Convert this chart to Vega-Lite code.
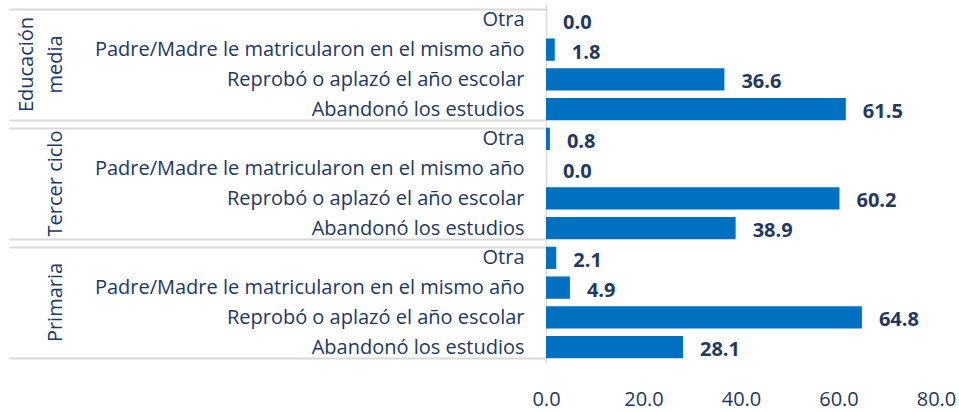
{
  "$schema": "https://vega.github.io/schema/vega-lite/v6.json",
  "padding": {"left": 8, "top": -5, "right": 2, "bottom": 5},
  "data": {
    "values": [
      {"nivel": "Educación media", "motivo": "Otra", "valor": 0.0},
      {"nivel": "Educación media", "motivo": "Padre/Madre le matricularon en el mismo año", "valor": 1.8},
      {"nivel": "Educación media", "motivo": "Reprobó o aplazó el año escolar", "valor": 36.6},
      {"nivel": "Educación media", "motivo": "Abandonó los estudios", "valor": 61.5},
      {"nivel": "Tercer ciclo", "motivo": "Otra", "valor": 0.8},
      {"nivel": "Tercer ciclo", "motivo": "Padre/Madre le matricularon en el mismo año", "valor": 0.0},
      {"nivel": "Tercer ciclo", "motivo": "Reprobó o aplazó el año escolar", "valor": 60.2},
      {"nivel": "Tercer ciclo", "motivo": "Abandonó los estudios", "valor": 38.9},
      {"nivel": "Primaria", "motivo": "Otra", "valor": 2.1},
      {"nivel": "Primaria", "motivo": "Padre/Madre le matricularon en el mismo año", "valor": 4.9},
      {"nivel": "Primaria", "motivo": "Reprobó o aplazó el año escolar", "valor": 64.8},
      {"nivel": "Primaria", "motivo": "Abandonó los estudios", "valor": 28.1}
    ]
  },
  "facet": {
    "row": {
      "field": "nivel",
      "type": "nominal",
      "sort": ["Educación media", "Tercer ciclo", "Primaria"],
      "header": {
        "title": null,
        "labelOrient": "left",
        "labelAngle": -90,
        "labelFont": "Open Sans",
        "labelFontSize": 20,
        "labelColor": "#203864",
        "labelLineHeight": 29,
        "labelPadding": -68,
        "labelExpr": "datum.value == 'Educación media' ? ['Educación', 'media'] : datum.value"
      }
    }
  },
  "spacing": 0,
  "spec": {
    "width": 390,
    "height": 119,
    "encoding": {
      "y": {
        "field": "motivo",
        "type": "nominal",
        "sort": ["Otra", "Padre/Madre le matricularon en el mismo año", "Reprobó o aplazó el año escolar", "Abandonó los estudios"],
        "scale": {"paddingInner": 0.25, "paddingOuter": 0.125},
        "axis": {
          "title": null,
          "labelFont": "Open Sans",
          "labelFontSize": 20,
          "labelColor": "#203864",
          "labelLimit": 0,
          "tickBand": "extent",
          "tickSize": 537,
          "tickWidth": 2,
          "tickColor": "#d9d9d9",
          "tickOpacity": {"condition": {"test": "datum.value == 'Otra' || datum.value == 'Reprobó o aplazó el año escolar' || datum.value == 'Padre/Madre le matricularon en el mismo año'", "value": 0}, "value": 1},
          "labelPadding": -515,
          "domainColor": "#d9d9d9",
          "domainWidth": 1.5
        }
      },
      "x": {
        "field": "valor",
        "type": "quantitative",
        "scale": {"domain": [0, 80], "nice": false},
        "axis": {
          "title": null,
          "values": [-93.5, 0, 20, 40, 60, 80],
          "labelExpr": "datum.value < 0 ? '' : format(datum.value, '.1f')",
          "grid": true,
          "gridColor": "#e6e6e6",
          "gridWidth": 1.5,
          "gridOpacity": {"condition": {"test": "datum.value < 0", "value": 1}, "value": 0},
          "ticks": false,
          "domain": false,
          "labelFont": "Open Sans",
          "labelFontSize": 20,
          "labelColor": "#203864",
          "labelPadding": 27,
          "labelFlush": false
        }
      }
    },
    "layer": [
      {"mark": {"type": "bar", "color": "#0070C0"}},
      {
        "mark": {"type": "text", "align": "left", "dx": 17, "dy": 3, "font": "Open Sans", "fontSize": 20, "fontWeight": "bold", "color": "#1F3864"},
        "encoding": {"text": {"field": "valor", "type": "quantitative", "format": ".1f"}}
      }
    ]
  },
  "config": {"view": {"stroke": null}}
}
